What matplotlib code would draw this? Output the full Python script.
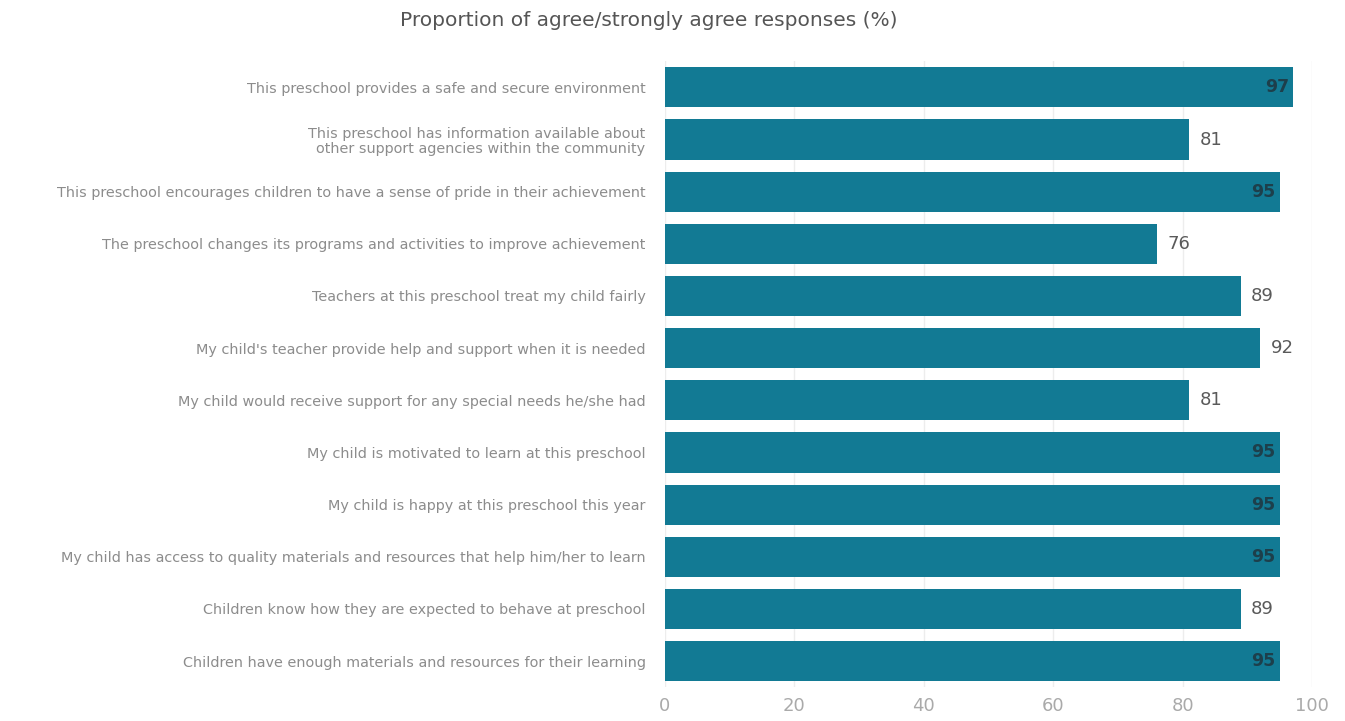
import matplotlib
matplotlib.use("Agg")
import matplotlib.pyplot as plt

categories = [
    "This preschool provides a safe and secure environment",
    "This preschool has information available about\nother support agencies within the community",
    "This preschool encourages children to have a sense of pride in their achievement",
    "The preschool changes its programs and activities to improve achievement",
    "Teachers at this preschool treat my child fairly",
    "My child's teacher provide help and support when it is needed",
    "My child would receive support for any special needs he/she had",
    "My child is motivated to learn at this preschool",
    "My child is happy at this preschool this year",
    "My child has access to quality materials and resources that help him/her to learn",
    "Children know how they are expected to behave at preschool",
    "Children have enough materials and resources for their learning",
]
values = [97, 81, 95, 76, 89, 92, 81, 95, 95, 95, 89, 95]
xticks = [0, 20, 40, 60, 80, 100]
title = "Proportion of agree/strongly agree responses (%)"

bar_color = "#127a94"

fig = plt.figure(figsize=(13.45, 7.21), dpi=100)
ax = fig.add_axes([0.4944, 0.047, 0.4811, 0.868])

y = list(range(len(categories)))
ax.barh(y, values, height=0.77, color=bar_color, zorder=2)
ax.set_ylim(len(categories) - 0.5, -0.5)
ax.set_xlim(0, 100)

for yi, v in zip(y, values):
    if v >= 95:
        ax.text(v - 0.6, yi, str(v), ha="right", va="center", fontsize=12.5,
                color="#1d3f4b", fontweight="bold", zorder=3)
    else:
        ax.text(v + 1.6, yi, str(v), ha="left", va="center", fontsize=13,
                color="#5a5a5a", zorder=3)

ax.set_yticks(y)
ax.set_yticklabels(categories, fontsize=10.4, color="#8c8c8c", linespacing=1.1)
ax.tick_params(axis="y", length=0, pad=14)
ax.set_xticks(xticks)
ax.set_xticklabels([str(t) for t in xticks], fontsize=13, color="#aaaaaa")
ax.tick_params(axis="x", length=0, pad=7)

ax.grid(axis="x", color="#ededed", linewidth=1, zorder=0)
for s in ax.spines.values():
    s.set_visible(False)

fig.text(0.482, 0.972, title, ha="center", va="center", fontsize=14.5, color="#555555")

fig.savefig("out.png", dpi=100)
